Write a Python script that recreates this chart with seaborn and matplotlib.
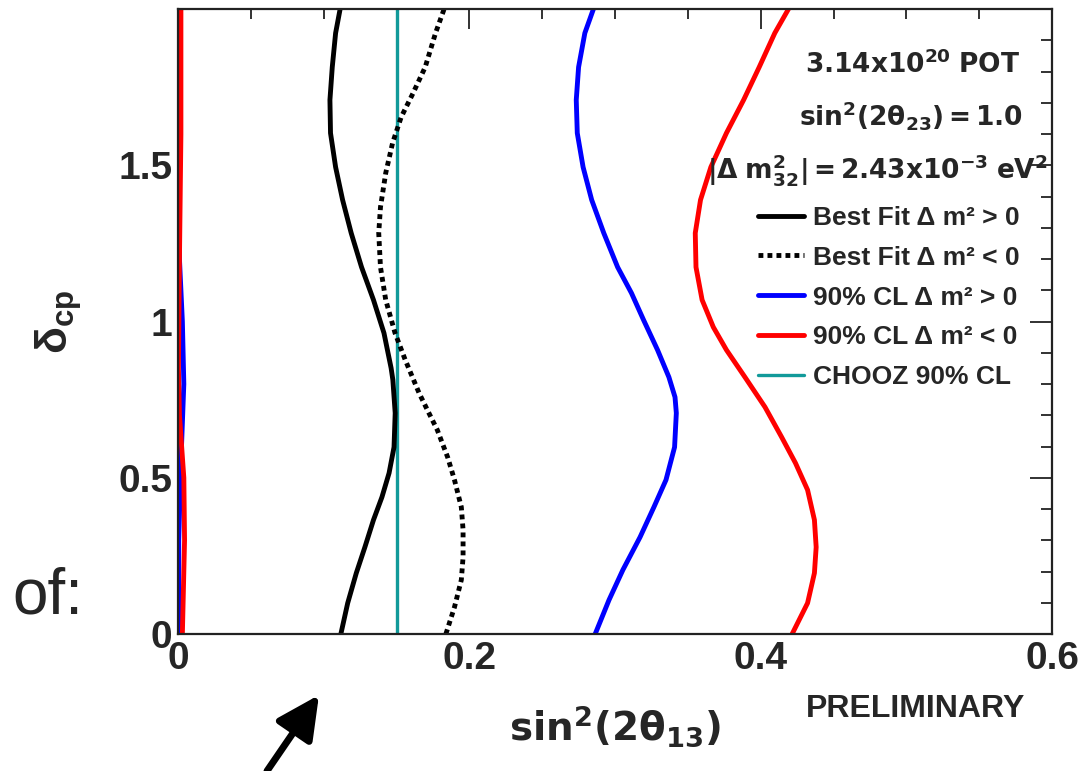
import matplotlib
matplotlib.use("Agg")
import matplotlib.pyplot as plt
from matplotlib.lines import Line2D
from matplotlib.patches import FancyArrowPatch
from matplotlib.ticker import MultipleLocator, FixedLocator
import seaborn as sns
import pandas as pd

# delta_CP (in units of pi) vs sin^2(2 theta_13) contours
bf_pos_dcp = [0.0, 0.099, 0.195, 0.278, 0.365, 0.438, 0.515, 0.598, 0.707, 0.813, 0.851,
              0.963, 1.069, 1.174, 1.283, 1.389, 1.494, 1.603, 1.709, 1.814, 1.923, 2.0]
bf_pos_s13 = [0.1118, 0.1165, 0.1224, 0.1283, 0.1342, 0.1400, 0.1449, 0.1483, 0.1491, 0.1475, 0.1463,
              0.1414, 0.1342, 0.1260, 0.1189, 0.1130, 0.1082, 0.1047, 0.1043, 0.1059, 0.1082, 0.1113]

bf_neg_dcp = [0.0, 0.086, 0.173, 0.246, 0.333, 0.406, 0.493, 0.566, 0.653, 0.714, 0.771, 0.877,
              0.963, 1.069, 1.174, 1.283, 1.366, 1.475, 1.571, 1.654, 1.731, 1.814, 1.923, 2.0]
bf_neg_s13 = [0.1839, 0.1898, 0.1945, 0.1957, 0.1957, 0.1945, 0.1898, 0.1851, 0.1780, 0.1715, 0.1655, 0.1560,
              0.1490, 0.1426, 0.1390, 0.1378, 0.1390, 0.1426, 0.1473, 0.1532, 0.1614, 0.1697, 0.1768, 0.1827]

cl_pos_dcp = [0.0, 0.109, 0.205, 0.310, 0.406, 0.493, 0.598, 0.707, 0.758, 0.822, 0.909,
              1.005, 1.091, 1.174, 1.283, 1.389, 1.494, 1.603, 1.709, 1.814, 1.923, 2.0]
cl_pos_s13 = [0.2864, 0.2959, 0.3054, 0.3172, 0.3267, 0.3350, 0.3409, 0.3421, 0.3412, 0.3370, 0.3292,
              0.3196, 0.3113, 0.3018, 0.2923, 0.2840, 0.2781, 0.2741, 0.2734, 0.2750, 0.2793, 0.2852]

cl_neg_dcp = [0.0, 0.099, 0.195, 0.278, 0.365, 0.461, 0.547, 0.630, 0.726, 0.820,
              0.909, 0.982, 1.069, 1.174, 1.283, 1.389, 1.494, 1.603, 1.709, 1.814, 1.923, 2.0]
cl_neg_s13 = [0.4216, 0.4322, 0.4369, 0.4381, 0.4369, 0.4322, 0.4239, 0.4144, 0.4030, 0.3895,
              0.3765, 0.3675, 0.3598, 0.3556, 0.3551, 0.3587, 0.3658, 0.3765, 0.3883, 0.3990, 0.4097, 0.4191]

# lower edges of the 90% CL regions (close to zero)
cl_pos_low_dcp = [0.0, 0.3, 0.55, 0.8, 1.0, 1.2, 1.5, 2.0]
cl_pos_low_s13 = [0.0005, 0.0005, 0.002, 0.004, 0.003, 0.001, 0.0003, 0.0003]
cl_neg_low_dcp = [0.0, 0.3, 0.5, 0.7, 0.85, 1.2, 1.6, 2.0]
cl_neg_low_s13 = [0.003, 0.0045, 0.004, 0.001, 0.0003, 0.001, 0.002, 0.002]

chooz_limit = 0.15

x_ticks = [0, 0.2, 0.4, 0.6]
x_tick_labels = ["0", "0.2", "0.4", "0.6"]
y_ticks = [0, 0.5, 1, 1.5]
y_tick_labels = ["0", "0.5", "1", "1.5"]

legend_labels = ["Best Fit Δ m² > 0", "Best Fit Δ m² < 0",
                 "90% CL Δ m² > 0", "90% CL Δ m² < 0", "CHOOZ 90% CL"]

header_lines = [r"$\mathbf{3.14x10^{20}\ POT}$",
                r"$\mathbf{sin^{2}(2θ_{23})=1.0}$",
                r"$\mathbf{|Δ\ m^{2}_{32}|=2.43x10^{-3}\ eV^{2}}$"]

sns.set_style("white")
plt.rcParams["font.family"] = ["Liberation Sans", "DejaVu Sans"]
plt.rcParams["font.weight"] = "bold"
plt.rcParams["mathtext.fontset"] = "custom"
plt.rcParams["mathtext.rm"] = "Liberation Sans:bold"
plt.rcParams["mathtext.it"] = "Liberation Sans:bold"
plt.rcParams["mathtext.sf"] = "Liberation Sans:bold"
plt.rcParams["mathtext.bf"] = "DejaVu Sans:bold"
plt.rcParams["mathtext.default"] = "rm"

BLUE = "#0000ff"
RED = "#ff0000"
TEAL = "#129a9a"
LW = 3.5
DOTS = (0, (1, 0.85))

fig = plt.figure(figsize=(10.82, 7.71), dpi=100)
ax = fig.add_axes([178 / 1082, 1 - 634 / 771, 874 / 1082, 625 / 771])


def curve(dcp, s13):
    return pd.DataFrame({"s13": s13, "dcp": dcp})


line_kw = dict(x="s13", y="dcp", orient="y", ax=ax, legend=False)
sns.lineplot(data=curve(cl_pos_low_dcp, cl_pos_low_s13), color=BLUE, lw=LW, **line_kw)
sns.lineplot(data=curve(cl_neg_low_dcp, cl_neg_low_s13), color=RED, lw=LW, **line_kw)
sns.lineplot(data=curve(cl_pos_dcp, cl_pos_s13), color=BLUE, lw=LW, **line_kw)
sns.lineplot(data=curve(cl_neg_dcp, cl_neg_s13), color=RED, lw=LW, **line_kw)
ax.axvline(chooz_limit, color=TEAL, lw=2.4)
sns.lineplot(data=curve(bf_pos_dcp, bf_pos_s13), color="black", lw=LW, **line_kw)
sns.lineplot(data=curve(bf_neg_dcp, bf_neg_s13), color="black", lw=LW,
             linestyle=DOTS, **line_kw)

ax.set_xlim(0, 0.6)
ax.set_ylim(0, 2.0)

ax.xaxis.set_major_locator(FixedLocator(x_ticks))
ax.set_xticklabels(x_tick_labels)
ax.xaxis.set_minor_locator(MultipleLocator(0.05))
ax.yaxis.set_major_locator(FixedLocator(y_ticks))
ax.set_yticklabels(y_tick_labels)
ax.yaxis.set_minor_locator(MultipleLocator(0.1))

ax.tick_params(axis="both", which="both", direction="in", top=True, right=True,
               color="#222222", width=1.3)
ax.tick_params(axis="x", which="major", length=14.5, labelsize=28, pad=5)
ax.tick_params(axis="x", which="minor", length=7.5)
ax.tick_params(axis="y", which="major", length=16, labelsize=28, pad=4)
ax.tick_params(axis="y", which="minor", length=8)
for lab in ax.get_xticklabels() + ax.get_yticklabels():
    lab.set_fontweight("bold")
for sp in ax.spines.values():
    sp.set_color("#222222")
    sp.set_linewidth(1.6)

ax.set_xlabel(r"$\mathbf{sin^{2}(2θ_{13})}$", fontsize=28)
ax.xaxis.set_label_coords(0.5, -0.112)
ax.xaxis.label.set_va("top")
ax.set_ylabel(r"$δ_{cp}$", fontsize=32)
ax.yaxis.set_label_coords(-0.108, 0.5)

# run / oscillation parameters
header_pos = [(0.963, 0.8976), (0.966, 0.814), (0.995, 0.7296)]
for txt, (hx, hy) in zip(header_lines, header_pos):
    ax.text(hx, hy, txt, transform=ax.transAxes, ha="right", va="baseline", fontsize=19)

handles = [
    Line2D([], [], color="black", lw=LW),
    Line2D([], [], color="black", lw=LW, linestyle=DOTS),
    Line2D([], [], color=BLUE, lw=LW),
    Line2D([], [], color=RED, lw=LW),
    Line2D([], [], color=TEAL, lw=2.4),
]
ax.legend(handles, legend_labels, loc="upper left", bbox_to_anchor=(0.6636, 0.685),
          frameon=False, handlelength=1.75, handletextpad=0.35,
          labelspacing=0.6, borderaxespad=0, borderpad=0,
          prop={"weight": "bold", "size": 19})

fig.text(806 / 1082, 1 - 717 / 771, "PRELIMINARY", fontsize=23, fontweight="bold",
         ha="left", va="baseline")

# slide annotation
fig.text(12 / 1082, 1 - 614 / 771, "of:", fontsize=46, fontweight="normal",
         ha="left", va="baseline")
fig.add_artist(FancyArrowPatch(
    posA=(267 / 1082, 0.0), posB=(319 / 1082, 1 - 695 / 771),
    transform=fig.transFigure, arrowstyle="-|>,head_length=1.3,head_width=0.65",
    mutation_scale=20, lw=5, color="black", shrinkA=0, shrinkB=0))

fig.savefig("out.png", dpi=100)
